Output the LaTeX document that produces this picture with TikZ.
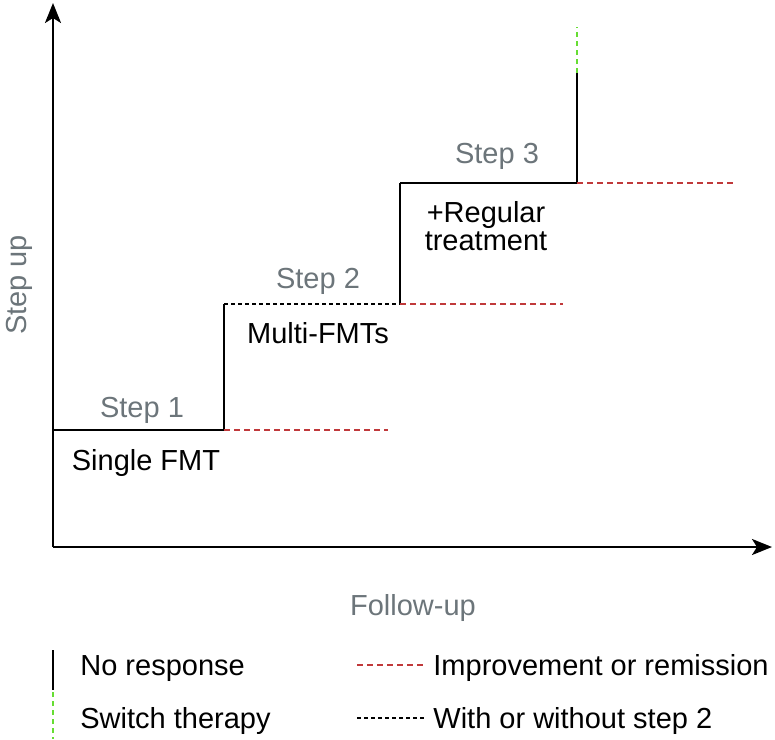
\documentclass[tikz,border=0pt]{standalone}
\usepackage{fontspec}
\setmainfont{Liberation Sans}
\usetikzlibrary{arrows.meta}
\definecolor{labelgray}{RGB}{108,117,122}
\definecolor{remred}{RGB}{192,57,59}
\definecolor{switchgreen}{RGB}{102,221,51}
\begin{document}
\begin{tikzpicture}[x=0.5pt,y=-0.5pt,
    every node/.style={font=\fontsize{14.5}{14}\selectfont, inner sep=0pt},
    axis/.style={line width=1.2pt, -{Stealth[length=10pt,width=8pt,inset=2.5pt]}},
    noresp/.style={line width=1pt, black},
    improve/.style={line width=1pt, remred, dash pattern=on 3pt off 2pt},
    withwithout/.style={line width=1pt, black, dash pattern=on 2pt off 1.5pt},
    switch/.style={line width=1pt, switchgreen, dash pattern=on 2.5pt off 2pt},
    steplabel/.style={anchor=base, text=labelgray},
    treatlabel/.style={anchor=base}]
\useasboundingbox (0,0) rectangle (775,739);
% the two axes share one corner
\coordinate (origin) at (53,547);
\coordinate (ytip) at (53,3);
\coordinate (xtip) at (772,547);
\draw[axis] (origin) -- (ytip);
\draw[axis] (origin) -- (xtip);
\node[steplabel, rotate=90] (yname) at (26,285) {Step up};
\node[steplabel] (xname) at (413,615) {Follow-up};
% corners of the staircase, one level for each step
\coordinate (s1a) at (53,430);
\coordinate (s1b) at (224,430);
\coordinate (s1end) at (388,430);
\coordinate (s2a) at (224,304);
\coordinate (s2b) at (400,304);
\coordinate (s2end) at (563,304);
\coordinate (s3a) at (400,183);
\coordinate (s3b) at (577,183);
\coordinate (s3end) at (733,183);
\coordinate (s4a) at (577,73);
\coordinate (s4b) at (577,27);
% step 1
\draw[noresp] (s1a) -- (s1b) -- (s2a);
\draw[improve] (s1b) -- (s1end);
\node[steplabel] (step1) at (142,417) {Step 1};
\node[treatlabel] (treat1) at (146,470) {Single FMT};
% step 2
\draw[withwithout] (s2a) -- (s2b);
\draw[noresp] (s2b) -- (s3a);
\draw[improve] (s2b) -- (s2end);
\node[steplabel] (step2) at (318,288) {Step 2};
\node[treatlabel] (treat2) at (318,343) {Multi-FMTs};
% step 3
\draw[noresp] (s3a) -- (s3b) -- (s4a);
\draw[improve] (s3b) -- (s3end);
\draw[switch] (s4a) -- (s4b);
\node[steplabel] (step3) at (497,163) {Step 3};
\node[treatlabel] (treat3a) at (486,222) {+Regular};
\node[treatlabel] (treat3b) at (486,250) {treatment};
% legend
\coordinate (l1a) at (53,650);
\coordinate (l1b) at (53,690);
\coordinate (l2a) at (53,692);
\coordinate (l2b) at (53,739);
\coordinate (l3a) at (357,665);
\coordinate (l3b) at (425,665);
\coordinate (l4a) at (357,718);
\coordinate (l4b) at (425,718);
\draw[noresp] (l1a) -- (l1b);
\draw[switch] (l2a) -- (l2b);
\draw[improve] (l3a) -- (l3b);
\draw[withwithout] (l4a) -- (l4b);
\node[treatlabel, anchor=base west] (leg1) at (80,675) {No response};
\node[treatlabel, anchor=base west] (leg2) at (80,728) {Switch therapy};
\node[treatlabel, anchor=base west] (leg3) at (433,675) {Improvement or remission};
\node[treatlabel, anchor=base west] (leg4) at (433,728) {With or without step 2};
\end{tikzpicture}
\end{document}
